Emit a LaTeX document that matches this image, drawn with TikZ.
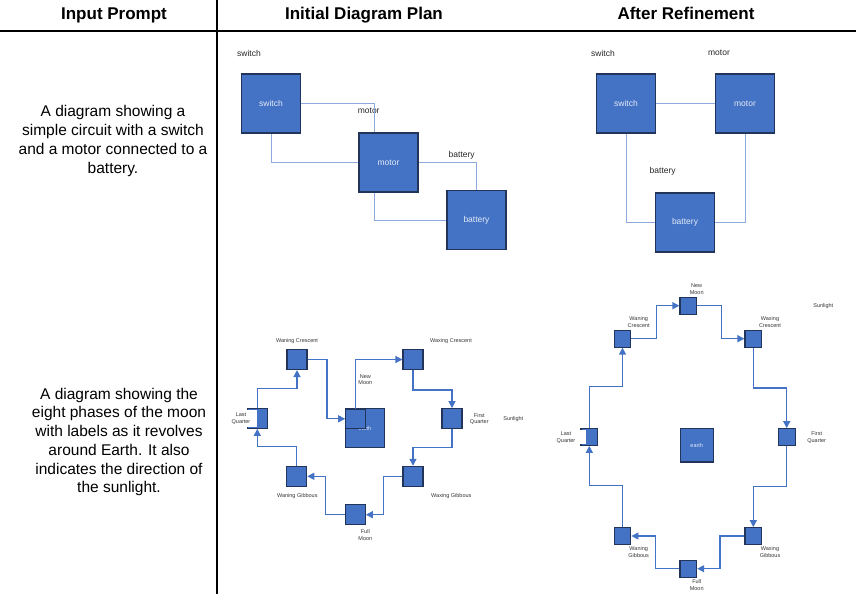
\documentclass[tikz,border=0pt]{standalone}
\usepackage{fontspec}
\setmainfont{Liberation Sans}
\usetikzlibrary{arrows.meta}
\definecolor{boxfill}{HTML}{4472C4}
\definecolor{boxline}{HTML}{23345A}
\definecolor{boxtext}{HTML}{E4EBF7}
\definecolor{wirelight}{HTML}{8EA9DB}

\begin{document}
\begin{tikzpicture}[x=1pt,y=-1pt,
  blk/.style={shape=rectangle,draw=boxline,fill=boxfill,line width=1.2pt,minimum size=#1,inner sep=0pt,text=boxtext,font=\fontsize{8.5}{10}\selectfont},
  dot/.style={shape=rectangle,draw=boxline,fill=boxfill,line width=1.1pt,minimum size=#1,inner sep=0pt,text=boxtext,font=\fontsize{5.5}{6.5}\selectfont},
  lbl/.style={font=\fontsize{8.5}{10}\selectfont,text=black!85},
  tiny/.style={font=\fontsize{5.5}{6.7}\selectfont,align=center,text=black!80,inner sep=0pt},
  wire/.style={draw=wirelight,line width=1pt},
  orbit/.style={draw=boxfill,line width=1.3pt,-{Triangle[length=7pt,width=7pt]}},
  head/.style={font=\bfseries\fontsize{17}{20}\selectfont,anchor=base},
  prompt/.style={font=\fontsize{15.5}{18.7}\selectfont,align=center}]
\useasboundingbox (0,0) rectangle (856,594);
\draw[line width=1.8pt] (0,31) -- (856,31);
\draw[line width=1.8pt] (217,0) -- (217,594);

\node[head] (h1) at (114,20) {Input Prompt};
\node[head] (h2) at (364,20) {Initial Diagram Plan};
\node[head] (h3) at (686,20) {After Refinement};

\node[prompt] (p1) at (113,141) {A diagram showing a\\simple circuit with a switch\\and a motor connected to a\\battery.};
\node[prompt] (p2) at (119,442) {A diagram showing the\\eight phases of the moon\\with labels as it revolves\\around Earth. It also\\indicates the direction of\\the sunlight.};

\node[lbl] (swl1) at (249,53) {switch};
\node[lbl] (mol1) at (368.7,111) {motor};
\node[lbl] (bal1) at (461.7,155) {battery};
\node[blk=59] (sw1) at (271,103.5) {switch};
\node[blk=59] (mo1) at (388.5,162.5) {motor};
\node[blk=59] (ba1) at (476.5,220) {battery};
\draw[wire] (sw1.east) -| ([xshift=-14.5pt]mo1.north);
\draw[wire] (sw1.south) |- (mo1.west);
\draw[wire] (mo1.east) -| (ba1.north);
\draw[wire] ([xshift=-14.5pt]mo1.south) |- (ba1.west);

\node[lbl] (swl2) at (603,53) {switch};
\node[lbl] (mol2) at (719,53) {motor};
\node[lbl] (bal2) at (662.7,171) {battery};
\node[blk=59] (sw2) at (626,103.5) {switch};
\node[blk=59] (mo2) at (745,103.5) {motor};
\node[blk=59] (ba2) at (685,222.5) {battery};
\draw[wire] (sw2.east) -- (mo2.west);
\draw[wire] (sw2.south) |- (ba2.west);
\draw[wire] (mo2.south) |- (ba2.east);

\node[dot=39] (ea1) at (365,428.3) {earth};
\node[dot=19.5] (nm1) at (355.5,418.8) {};
\node[dot=20] (wnc1) at (297,359.5) {};
\node[dot=20] (wxc1) at (413,359.5) {};
\node[dot=20] (fq1) at (452,418.7) {};
\node[dot=20] (wxg1) at (413,476.3) {};
\node[dot=20] (fm1) at (355.3,514.7) {};
\node[dot=20] (wng1) at (296.7,476.3) {};
\node[dot=20] (lq1) at (257.3,418.3) {};
\node[tiny] (wncl1) at (297,341) {Waning Crescent};
\node[tiny] (wxcl1) at (451,341) {Waxing Crescent};
\node[tiny] (nml1) at (365.3,379.7) {New\\Moon};
\node[tiny] (fql1) at (479.3,419) {First\\Quarter};
\node[tiny] (sun1) at (513.3,418.7) {Sunlight};
\node[tiny,fill=white,minimum width=32.6,minimum height=17] (lql1) at (241,418.5) {Last\\Quarter};
\node[tiny] (wngl1) at (297.3,495.7) {Waning Gibbous};
\node[tiny] (wxgl1) at (451.3,495.7) {Waxing Gibbous};
\node[tiny] (fml1) at (365.3,535) {Full\\Moon};
\draw[orbit] (wnc1.east) -- ++(19.5,0) |- (nm1.west);
\draw[orbit] (nm1.north) |- (wxc1.west);
\draw[orbit] (wxc1.south) -- ++(0,20) -| (fq1.north);
\draw[orbit] (fq1.south) -- ++(0,18) -| (wxg1.north);
\draw[orbit] (wxg1.west) -- ++(-19,0) |- (fm1.east);
\draw[orbit] (fm1.west) -- ++(-19.5,0) |- (wng1.east);
\draw[orbit] (wng1.north) -- ++(0,-19.5) -| (lq1.south);
\draw[orbit] (lq1.north) -- ++(0,-19) -| (wnc1.south);

\node[dot=33.3] (ea2) at (696.7,445.3) {earth};
\node[dot=16.7] (nm2) at (688.3,305.7) {};
\node[dot=16.7] (wnc2) at (622.5,338.7) {};
\node[dot=16.7] (wxc2) at (753.3,338.7) {};
\node[dot=16.7] (fq2) at (786.7,437) {};
\node[dot=16.7] (wxg2) at (753.3,536) {};
\node[dot=16.7] (fm2) at (688.3,568.7) {};
\node[dot=16.7] (wng2) at (622.5,536) {};
\node[dot=16.7] (lq2) at (589.3,437) {};
\node[tiny] (nml2) at (696.7,289.3) {New\\Moon};
\node[tiny] (wncl2) at (638.7,322.3) {Waning\\Crescent};
\node[tiny] (wxcl2) at (770,322.3) {Waxing\\Crescent};
\node[tiny] (sun2) at (823.3,306) {Sunlight};
\node[tiny,fill=white,minimum width=40,minimum height=14] (lql2) at (566,437.3) {Last\\Quarter};
\node[tiny] (fql2) at (816.7,437.3) {First\\Quarter};
\node[tiny] (wngl2) at (638.7,551.7) {Waning\\Gibbous};
\node[tiny] (wxgl2) at (770,551.7) {Waxing\\Gibbous};
\node[tiny] (fml2) at (696.7,585) {Full\\Moon};
\draw[orbit] (wnc2.east) -- ++(25,0) |- (nm2.west);
\draw[orbit] (nm2.east) -- ++(24,0) |- (wxc2.west);
\draw[orbit] (wxc2.south) -- ++(0,40.3) -| (fq2.north);
\draw[orbit] (fq2.south) -- ++(0,40.7) -| (wxg2.north);
\draw[orbit] (wxg2.west) -- ++(-24.3,0) |- (fm2.east);
\draw[orbit] (fm2.west) -- ++(-24,0) |- (wng2.east);
\draw[orbit] (wng2.north) -- ++(0,-41.7) -| (lq2.south);
\draw[orbit] (lq2.north) -- ++(0,-41.3) -| (wnc2.south);
\end{tikzpicture}
\end{document}
